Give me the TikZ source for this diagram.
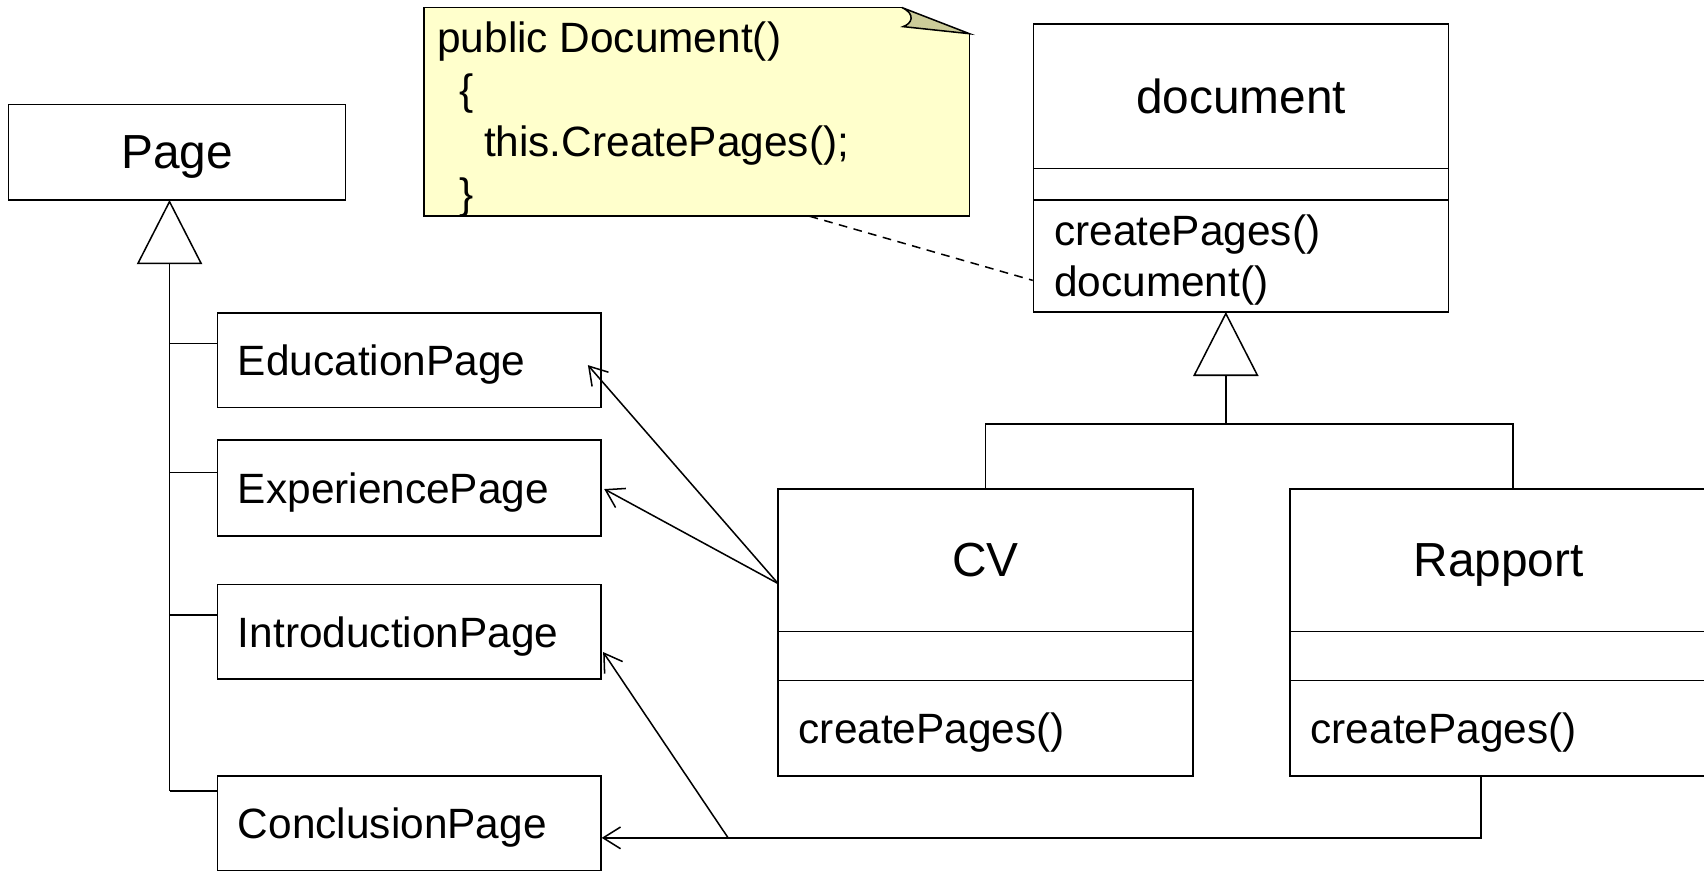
\documentclass[tikz,border=0pt]{standalone}
\usepackage{fontspec}
\setmainfont{Liberation Sans}
\usetikzlibrary{arrows.meta,calc}

\definecolor{notefill}{HTML}{FFFFCC}
\definecolor{foldfill}{HTML}{CCCC99}

\tikzset{
  box/.style={draw, line width=0.7pt, inner sep=0pt, text depth=0pt, font=\fontsize{19.5}{23.5}\selectfont},
  namebox/.style={box, font=\fontsize{22}{26}\selectfont},
  opsbox/.style={box, align=left, inner xsep=9.5pt, text width=#1},
  assoc/.style={line width=0.7pt, -{Straight Barb[length=8pt,width=10pt,line width=0.7pt]}},
  gen/.style={line width=0.7pt, -{Triangle[open,length=29.5pt,width=30pt,line width=0.7pt]}}
}

\begin{document}
\begin{tikzpicture}[x=0.5pt, y=-0.5pt]
\useasboundingbox (0,0) rectangle (1568,801);

% Page and its subclasses
\node[namebox, minimum width=155pt, minimum height=44pt] (page) at (163,140) {Page};
\node[opsbox=157.5pt, minimum height=43.5pt] (edu) at (376.5,331.5) {EducationPage};
\node[opsbox=157.5pt, minimum height=44pt] (exp) at (376.5,449) {ExperiencePage};
\node[opsbox=157.5pt, minimum height=43.5pt] (intro) at (376.5,581.5) {IntroductionPage};
\node[opsbox=157.5pt, minimum height=43.5pt] (concl) at (376.5,757.5) {ConclusionPage};

% Inheritance tree of Page
\coordinate (pagetip) at (156,184);
\coordinate (pagefoot) at (156,728);
\draw[gen] (pagefoot) -- (pagetip);
\foreach \y/\n in {316/edu, 435/exp, 566/intro, 728/concl}
  \draw[line width=0.7pt] (156,\y) -- (\n.west |- 156,\y);

% Note with folded corner
\fill[notefill] (390,7) -- (830,7) -- (892,31) -- (892,199) -- (390,199) -- cycle;
\draw[line width=0.7pt] (830,7) -- (390,7) -- (390,199) -- (892,199) -- (892,31);
\filldraw[fill=foldfill, line width=0.7pt] (830,7) .. controls (843,13) and (839,22) .. (831,24.5) -- (892,31) -- cycle;
\node[anchor=west, align=left, inner sep=0pt, font=\fontsize{19.5}{23.8}\selectfont] (notetext) at (402,110)
  {public Document()\\\hspace*{10pt}\{\\\hspace*{21.5pt}this.CreatePages();\\\hspace*{10pt}\}};

% Class document
\node[namebox, minimum width=191pt, minimum height=66.5pt] (docname) at (1142,88.5) {document};
\node[box, minimum width=191pt, minimum height=14.5pt] (docattr) at (1142,169.5) {};
\node[opsbox=172pt, minimum height=51.5pt, text depth=24pt] (docops) at (1142,235.5) {createPages()\\document()};

% Class CV
\node[namebox, minimum width=191pt, minimum height=65.5pt] (cvname) at (907,515.5) {CV};
\node[box, minimum width=191pt, minimum height=22.5pt] (cvattr) at (907,603.5) {};
\node[opsbox=172pt, minimum height=44pt] (cvops) at (907,670) {createPages()};

% Class Rapport
\node[namebox, minimum width=192pt, minimum height=65.5pt] (rapname) at (1379,515.5) {Rapport};
\node[box, minimum width=192pt, minimum height=22.5pt] (rapattr) at (1379,603.5) {};
\node[opsbox=173pt, minimum height=44pt] (rapops) at (1379,670) {createPages()};

% Inheritance of document
\coordinate (doctip) at (1128,287);
\coordinate (docfork) at (1128,390);
\draw[gen] (docfork) -- (doctip);
\draw[line width=0.7pt] (cvname.north) |- (docfork);
\draw[line width=0.7pt] (docfork) -| (1392,450);

% Note link
\coordinate (noteout) at (745,199);
\draw[dashed, dash pattern=on 4pt off 3pt, line width=0.7pt] (noteout) -- (docops.west |- 0,258);

% Associations from CV
\coordinate (cvout) at (716,537);
\coordinate (edutip) at (541,336);
\coordinate (exptip) at (556,450);
\draw[assoc] (cvout) -- (edutip);
\draw[assoc] (cvout) -- (exptip);

% Associations from Rapport
\coordinate (rapout) at (1363,714);
\coordinate (bend) at (670,771);
\coordinate (introtip) at (555,600);
\draw[assoc] (rapout) |- (concl.east |- bend);
\draw[assoc] (bend) -- (introtip);

\end{tikzpicture}
\end{document}
